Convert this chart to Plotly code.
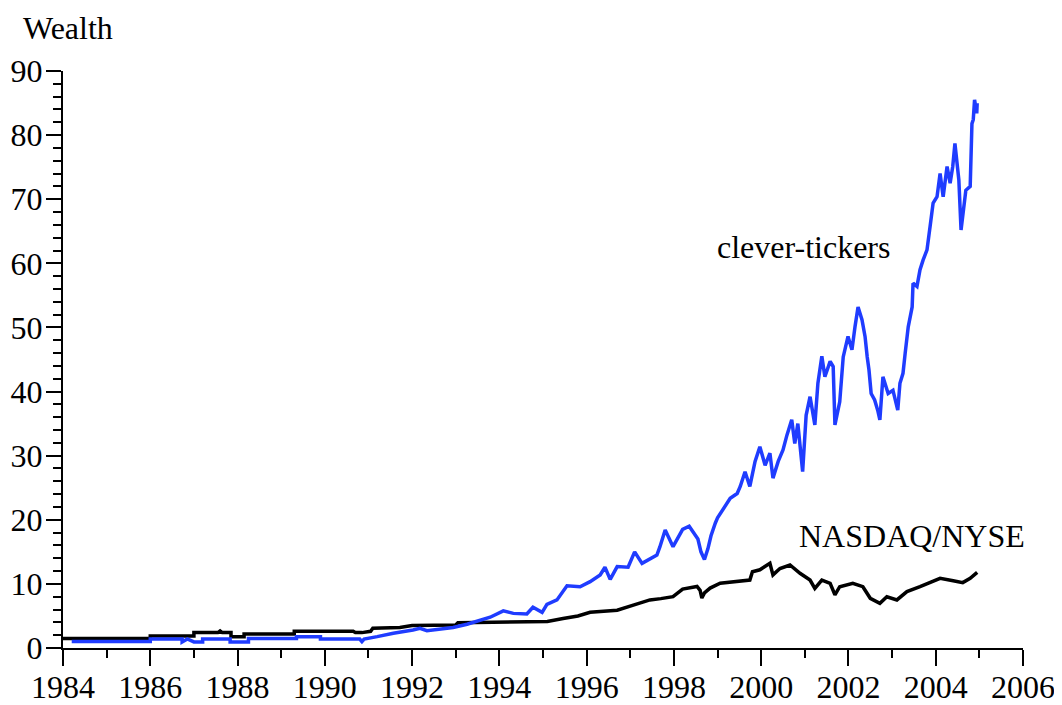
import plotly.graph_objects as go

# NASDAQ/NYSE benchmark wealth (years, values)
nyse_years = [1984.0, 1986.0, 1986.0, 1987.0, 1987.0, 1987.55, 1987.6, 1987.65, 1987.85, 1987.85, 1988.15, 1988.15,
              1989.3, 1989.3, 1990.65, 1990.7, 1990.85, 1991.05, 1991.1, 1991.7, 1991.72, 1992.0, 1992.5, 1993.0,
              1993.05, 1994.0, 1995.1, 1995.46, 1995.8, 1996.08, 1996.4, 1996.7, 1997.07, 1997.45, 1997.7, 1997.98,
              1998.2, 1998.53, 1998.6, 1998.64, 1998.7, 1998.83, 1999.06, 1999.4, 1999.74, 1999.8, 1999.97,
              2000.2, 2000.27, 2000.43, 2000.66, 2000.89, 2001.12, 2001.23, 2001.39, 2001.58, 2001.69, 2001.8,
              2002.1, 2002.33, 2002.5, 2002.72, 2002.88, 2003.11, 2003.34, 2003.64, 2003.94, 2004.1, 2004.4,
              2004.62, 2004.79, 2004.95]
nyse_vals = [1.5, 1.5, 1.87, 1.87, 2.4, 2.4, 2.65, 2.4, 2.4, 1.77, 1.77, 2.18,
             2.18, 2.6, 2.6, 2.4, 2.4, 2.6, 3.07, 3.07, 3.2, 3.5, 3.5, 3.6,
             3.95, 4.1, 4.15, 4.6, 5.0, 5.57, 5.7, 5.9, 6.7, 7.5, 7.7, 8.0,
             9.2, 9.6, 9.0, 7.8, 8.6, 9.35, 10.1, 10.4, 10.6, 11.9, 12.2,
             13.2, 11.4, 12.4, 12.95, 11.65, 10.6, 9.3, 10.6, 10.1, 8.3, 9.56,
             10.1, 9.56, 7.75, 6.97, 8.0, 7.5, 8.8, 9.56, 10.35, 10.87, 10.5,
             10.2, 10.87, 11.8]

# clever-tickers strategy wealth
ct_years = [1984.2, 1986.0, 1986.0, 1986.73, 1986.73, 1986.85, 1987.0, 1987.2, 1987.2, 1987.83, 1987.83, 1988.25,
            1988.25, 1989.35, 1989.35, 1989.9, 1989.9, 1990.8, 1990.85, 1990.9, 1991.2, 1991.26, 1991.57,
            1992.02, 1992.18, 1992.34, 1992.64, 1992.94, 1993.26, 1993.56, 1993.79, 1994.09, 1994.32, 1994.63,
            1994.77, 1994.98, 1995.09, 1995.32, 1995.55, 1995.85, 1996.08, 1996.31, 1996.42, 1996.54, 1996.7,
            1996.95, 1997.1, 1997.27, 1997.61, 1997.68, 1997.8, 1997.98, 1998.14, 1998.2, 1998.35, 1998.45,
            1998.55, 1998.62, 1998.7, 1998.78, 1998.85, 1998.95, 1999.0, 1999.29, 1999.45, 1999.52, 1999.63,
            1999.74, 1999.86, 1999.97, 2000.09, 2000.2, 2000.27, 2000.39, 2000.5, 2000.59, 2000.7, 2000.77,
            2000.84, 2000.95, 2001.03, 2001.12, 2001.23, 2001.3, 2001.39, 2001.46, 2001.58, 2001.65, 2001.69,
            2001.8, 2001.88, 2001.99, 2002.08, 2002.15, 2002.22, 2002.31, 2002.38, 2002.43, 2002.47, 2002.52,
            2002.6, 2002.67, 2002.72, 2002.79, 2002.91, 2003.02, 2003.13, 2003.18, 2003.25, 2003.3, 2003.37,
            2003.46, 2003.48, 2003.57, 2003.64, 2003.71, 2003.8, 2003.87, 2003.94, 2004.03, 2004.1, 2004.17,
            2004.26, 2004.33, 2004.39, 2004.44, 2004.49, 2004.53, 2004.58, 2004.62, 2004.69, 2004.79, 2004.83,
            2004.86, 2004.89, 2004.94, 2004.95]
ct_vals = [1.0, 1.0, 1.4, 1.4, 0.94, 1.4, 0.94, 0.94, 1.4, 1.4, 0.94, 0.94,
           1.5, 1.5, 1.77, 1.77, 1.4, 1.4, 1.0, 1.4, 1.77, 1.87, 2.3,
           2.8, 3.07, 2.7, 2.9, 3.2, 3.7, 4.37, 4.8, 5.8, 5.4, 5.3,
           6.35, 5.57, 6.8, 7.5, 9.7, 9.56, 10.35, 11.4, 12.6, 10.7, 12.7,
           12.6, 15.0, 13.2, 14.5, 15.8, 18.4, 15.8, 17.6, 18.5, 19.0, 18.0,
           17.0, 15.0, 13.8, 15.5, 17.5, 19.5, 20.3, 23.35, 24.1, 25.2, 27.5,
           25.2, 29.1, 31.4, 28.5, 30.4, 26.5, 29.1, 30.9, 33.2, 35.6, 31.9,
           35.0, 27.5, 36.3, 39.2, 34.8, 41.3, 45.5, 42.3, 44.7, 43.9, 34.8,
           38.4, 45.4, 48.6, 46.5, 50.1, 53.2, 51.2, 48.6, 45.4, 43.4, 39.7,
           38.7, 37.1, 35.6, 42.3, 39.7, 40.2, 37.1, 41.3, 42.85, 46.0, 50.1,
           53.2, 56.9, 56.4, 59.0, 60.5, 62.1, 65.7, 69.4, 70.4, 74.0, 70.4,
           75.1, 72.5, 75.1, 78.7, 75.6, 73.0, 65.2, 67.8, 71.4, 72.0, 81.8,
           82.4, 85.5, 83.4, 85.0]

x_ticks = list(range(1984, 2007, 2))
y_ticks = list(range(0, 91, 10))

FONT = "Liberation Serif"
FS = 32

fig = go.Figure()
fig.add_trace(go.Scatter(x=nyse_years, y=nyse_vals, mode="lines",
                         line=dict(color="black", width=3.5), name="NASDAQ/NYSE"))
fig.add_trace(go.Scatter(x=ct_years, y=ct_vals, mode="lines",
                         line=dict(color="#1f3cff", width=3.5), name="clever-tickers"))

# page body has an 8px default margin, so the figure is sized/offset to compensate
fig.update_layout(
    width=1054, height=697,
    margin=dict(l=55, r=39, t=63, b=57, autoexpand=False),
    paper_bgcolor="white", plot_bgcolor="white",
    showlegend=False,
    font=dict(family=FONT, size=FS, color="black"),
    xaxis=dict(range=[1984, 2006], tickvals=x_ticks, ticktext=[str(v) for v in x_ticks],
               automargin=False, ticklabelstandoff=-6,
               showgrid=False, zeroline=False, showline=True, linecolor="black", linewidth=2,
               ticks="outside", ticklen=16, tickwidth=2, tickcolor="black",
               minor=dict(dtick=1, tick0=1984, ticks="outside", ticklen=8, tickwidth=2, tickcolor="black", showgrid=False),
               tickfont=dict(family=FONT, size=FS, color="black")),
    yaxis=dict(range=[0, 90], tickvals=y_ticks, ticktext=[str(v) for v in y_ticks],
               automargin=False, ticklabelstandoff=-3,
               showgrid=False, zeroline=False, showline=True, linecolor="black", linewidth=2,
               ticks="outside", ticklen=15, tickwidth=2, tickcolor="black",
               minor=dict(dtick=2, tick0=0, ticks="outside", ticklen=8, tickwidth=2, tickcolor="black", showgrid=False),
               tickfont=dict(family=FONT, size=FS, color="black")),
    annotations=[
        dict(text="Wealth", xref="paper", yref="paper", x=(68 - 63) / 960, y=(648 - 28) / 577,
             showarrow=False, xanchor="center", yanchor="middle", font=dict(family=FONT, size=FS, color="black")),
        dict(text="clever-tickers", xref="paper", yref="paper", x=(803 - 63) / 960, y=(648 - 247) / 577,
             showarrow=False, xanchor="center", yanchor="middle", font=dict(family=FONT, size=FS, color="black")),
        dict(text="NASDAQ/NYSE", xref="paper", yref="paper", x=(912 - 63) / 960, y=(648 - 536) / 577,
             showarrow=False, xanchor="center", yanchor="middle", font=dict(family=FONT, size=FS, color="black")),
    ],
)

fig.write_html("out.html")
